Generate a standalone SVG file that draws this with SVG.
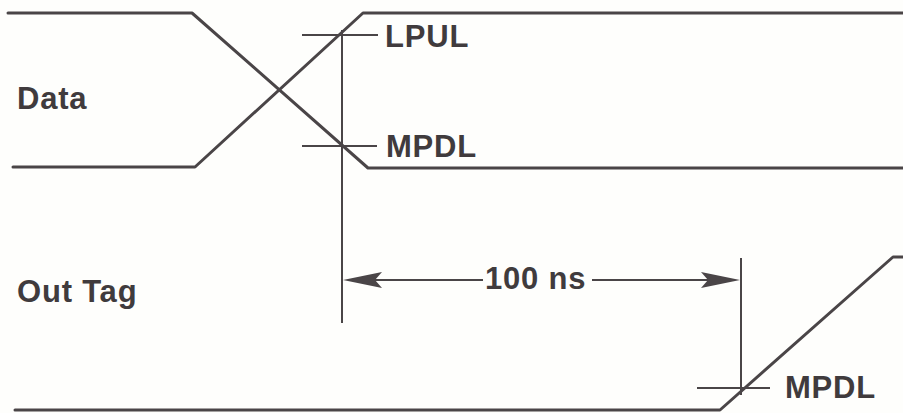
<svg xmlns="http://www.w3.org/2000/svg" width="903" height="413" viewBox="0 0 903 413">
<style>
.sig{fill:none;stroke:#4a4547;stroke-width:3;stroke-linejoin:round;stroke-linecap:round}
.thin{fill:none;stroke:#4a4547;stroke-width:2}
.lbl{font-family:"Liberation Sans",Arial,sans-serif;font-weight:bold;font-size:31px;letter-spacing:0.8px;fill:#403b3d}
.ah{fill:#4a4547}
</style>
<rect width="903" height="413" fill="#fefefc"/>
<g id="data-signal">
<polyline class="sig" points="8,13 192,13 368,168 903,168"/>
<polyline class="sig" points="13,167 195,167 363,13 903,13"/>
<text class="lbl" x="17" y="109">Data</text>
</g>
<g id="outtag-signal">
<polyline class="sig" points="15,410 720,410 893,257 903,257"/>
<text class="lbl" x="17" y="302">Out Tag</text>
</g>
<g id="lpul">
<line class="thin" x1="302" y1="35" x2="378" y2="35"/>
<text class="lbl" x="385" y="47">LPUL</text>
</g>
<g id="mpdl-data">
<line class="thin" x1="302" y1="146" x2="377" y2="146"/>
<text class="lbl" x="386" y="157">MPDL</text>
</g>
<g id="mpdl-outtag">
<line class="thin" x1="697" y1="388" x2="770" y2="388"/>
<text class="lbl" x="785" y="398">MPDL</text>
</g>
<g id="connectors">
<line class="thin" x1="342" y1="30" x2="342" y2="323"/>
<line class="thin" x1="741" y1="258" x2="741" y2="395"/>
<line class="thin" x1="350" y1="280" x2="483" y2="280"/>
<line class="thin" x1="592" y1="280" x2="735" y2="280"/>
<polygon class="ah" points="343,280 382,272 375,280 382,288"/>
<polygon class="ah" points="740,280 701,272 708,280 701,288"/>
</g>
<g id="interval-label">
<text class="lbl" x="485" y="289">100 ns</text>
</g>
</svg>
